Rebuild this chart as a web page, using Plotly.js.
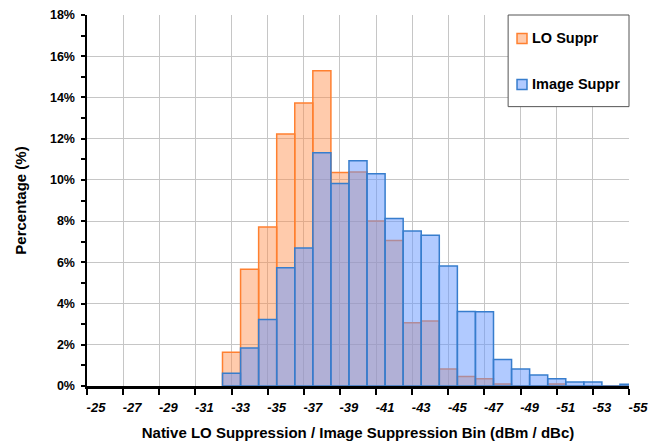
<!DOCTYPE html>
<html>
<head>
<meta charset="utf-8">
<script src="https://cdn.plot.ly/plotly-3.0.1.min.js"></script>
<style>html,body{margin:0;padding:0;background:#fff}#chart{width:668px;height:442px}</style>
</head>
<body>
<div id="chart"></div>
<script>
// Bins (dBm / dBc)
const bins = [-33,-34,-35,-36,-37,-38,-39,-40,-41,-42,-43,-44,-45,-46,-47,-48,-49,-50,-51,-52,-53,-54,-55];
// Percentages
const loSuppr = [1.64,5.66,7.71,12.23,13.73,15.30,10.36,10.38,8.00,7.06,3.07,3.15,0.83,0.46,0.35,0.10,0,0,0.10,0,0,0,0];
const imageSuppr = [0.62,1.84,3.23,5.74,6.69,11.32,9.83,10.93,10.30,8.13,7.52,7.31,5.82,3.62,3.60,1.29,0.82,0.53,0.35,0.19,0.19,0,0.09];
// Axis ticks
const xTickVals = [-25,-27,-29,-31,-33,-35,-37,-39,-41,-43,-45,-47,-49,-51,-53,-55];
const xTickText = ["-25","-27","-29","-31","-33","-35","-37","-39","-41","-43","-45","-47","-49","-51","-53","-55"];
const yTickVals = [0,2,4,6,8,10,12,14,16,18];
const yTickText = ["0%","2%","4%","6%","8%","10%","12%","14%","16%","18%"];
const seriesNames = ["LO Suppr","Image Suppr"];

const FONT = "Liberation Sans, Arial, sans-serif";
const orangeFill = "rgba(255,140,70,0.45)", orangeLine = "rgb(255,128,48)";
const blueFill = "rgba(100,150,255,0.50)", blueLine = "rgb(55,125,205)";

const traces = [
  {type:"bar", name:seriesNames[0], x:bins, y:loSuppr, width:1, showlegend:false,
   marker:{color:orangeFill, line:{color:orangeLine, width:1.5}}},
  {type:"bar", name:seriesNames[1], x:bins, y:imageSuppr, width:1, showlegend:false,
   marker:{color:blueFill, line:{color:blueLine, width:1.5}}}
];

// legend geometry in paper coordinates
const lgX0 = 0.777, lgX1 = 1.0, lgY0 = 0.753, lgY1 = 1.0;
const symX0 = 0.7934, symX1 = 0.8118, symH = 0.0135;
const rowY = [0.9367, 0.8127];
const fills = [orangeFill, blueFill], lines = [orangeLine, blueLine];

const shapes = [{type:"rect", xref:"paper", yref:"paper", x0:lgX0, x1:lgX1, y0:lgY0, y1:lgY1,
  fillcolor:"#ffffff", line:{color:"#555555", width:1}, layer:"above"}];
const annotations = [];
seriesNames.forEach((n,i)=>{
  shapes.push({type:"rect", xref:"paper", yref:"paper", x0:symX0, x1:symX1, y0:rowY[i]-symH, y1:rowY[i]+symH,
    fillcolor:fills[i], line:{color:lines[i], width:1.5}, layer:"above"});
  annotations.push({xref:"paper", yref:"paper", x:0.8175, y:rowY[i], xanchor:"left", yanchor:"middle",
    text:"<b>"+n+"</b>", showarrow:false, font:{family:FONT, size:14.5, color:"#000"}});
});

const layout = {
  width:668, height:442,
  margin:{l:87, r:39, t:15, b:56},
  paper_bgcolor:"#fff", plot_bgcolor:"#fff",
  barmode:"overlay", bargap:0,
  font:{family:FONT, color:"#000"},
  xaxis:{
    range:[-25,-55], tickmode:"array", tickvals:xTickVals,
    ticktext:xTickText.map(t=>"<b><i>"+t+"</i></b>"),
    tickfont:{family:FONT, size:13, color:"#000"},
    ticklabelshift:-9, ticklabelstandoff:2,
    showgrid:true, gridcolor:"#c6c6c6", gridwidth:1,
    ticks:"outside", ticklen:6, tickwidth:2, tickcolor:"#000",
    showline:true, linecolor:"#000", linewidth:2.5, zeroline:false,
    title:{text:"<b>Native LO Suppression / Image Suppression Bin (dBm / dBc)</b>", standoff:14,
      font:{family:FONT, size:15, color:"#000"}}
  },
  yaxis:{
    range:[0,18], tickmode:"array", tickvals:yTickVals,
    ticktext:yTickText.map(t=>"<b>"+t+"</b>"),
    tickfont:{family:FONT, size:12.5, color:"#000"},
    ticklabelstandoff:3,
    showgrid:true, gridcolor:"#c6c6c6", gridwidth:1,
    ticks:"outside", ticklen:4, tickwidth:2, tickcolor:"#000",
    minor:{dtick:1, ticks:"outside", ticklen:4, tickwidth:2, tickcolor:"#000", showgrid:false},
    showline:true, linecolor:"#000", linewidth:2.5, zeroline:false,
    title:{text:"<b>Percentage (%)</b>", standoff:20, font:{family:FONT, size:15, color:"#000"}}
  },
  yaxis2:{
    overlaying:"y", side:"left", range:[0,18], tickmode:"array", tickvals:yTickVals,
    showticklabels:false, showgrid:false, showline:false, zeroline:false,
    ticks:"inside", ticklen:4, tickwidth:2, tickcolor:"#000",
    minor:{dtick:1, ticks:"inside", ticklen:4, tickwidth:2, tickcolor:"#000", showgrid:false}
  },
  shapes:shapes,
  annotations:annotations,
  showlegend:false
};

Plotly.newPlot("chart", traces, layout, {displayModeBar:false, staticPlot:true});
</script>
</body>
</html>
